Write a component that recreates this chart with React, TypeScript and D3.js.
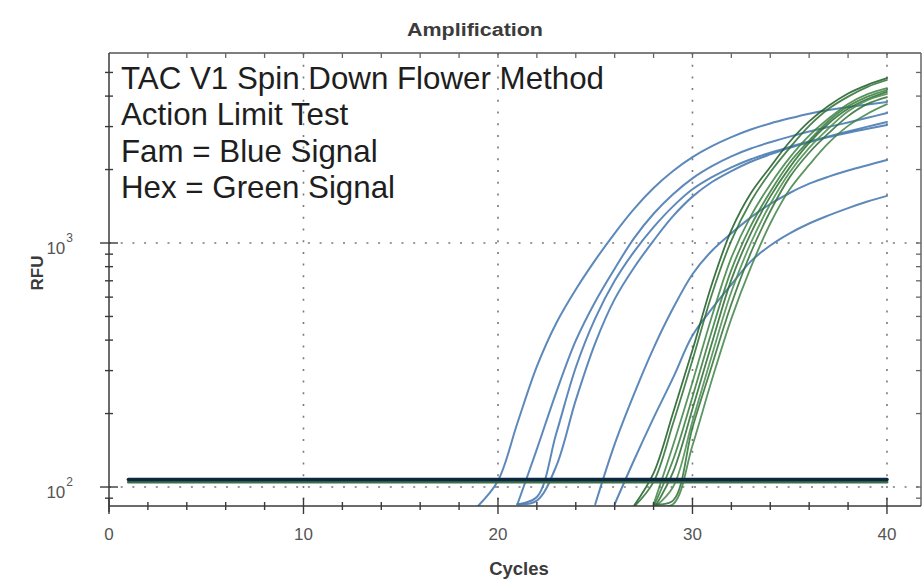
import React from "react";
import * as d3 from "d3";

const W = 922;
const H = 582;
const plotLeft = 109;
const plotRight = 921;
const plotTop = 53;
const plotBottom = 506;

const cycleDomain = [0, 41.75];
const rfuDomain = [83.6, 6007];

const xMajorTicks = [0, 10, 20, 30, 40];
const xMinorTicks = [2, 4, 6, 8, 12, 14, 16, 18, 22, 24, 26, 28, 32, 34, 36, 38];
const yMajorTicks = [100, 1000];
const yMinorTicks = [90, 200, 300, 400, 500, 600, 700, 800, 900, 2000, 3000, 4000, 5000];

const annotationLines = [
  "TAC V1 Spin Down Flower Method",
  "Action Limit Test",
  "Fam = Blue Signal",
  "Hex = Green Signal",
];

// Threshold lines (RFU), from cycle 1 to 40
const thresholdCycles = [1, 40];
const famThreshold = 107.3;
const hexThreshold = 104.8;

// FAM (blue) curves: start cycle + RFU per cycle
const famStart = [19, 21, 21, 21, 25, 26];
const fam1 = [84, 106, 183, 312, 470, 645, 851, 1096, 1380, 1679, 1972, 2249, 2495, 2716, 2917, 3090, 3243, 3388, 3508, 3606, 3698, 3784];
const fam2 = [85, 143, 245, 398, 575, 785, 1047, 1318, 1585, 1841, 2065, 2265, 2438, 2588, 2729, 2864, 2992, 3119, 3258, 3412];
const fam3 = [85, 91, 166, 309, 491, 700, 922, 1161, 1413, 1660, 1862, 2042, 2203, 2344, 2477, 2606, 2735, 2864, 2999, 3133];
const fam4 = [85, 88, 122, 227, 389, 589, 794, 1023, 1288, 1549, 1778, 1972, 2153, 2307, 2455, 2588, 2716, 2831, 2938, 3048];
const fam5 = [85, 150, 241, 371, 540, 745, 930, 1096, 1274, 1445, 1603, 1750, 1871, 1982, 2084, 2188];
const fam6 = [85, 129, 192, 280, 418, 538, 676, 841, 977, 1096, 1202, 1297, 1390, 1479, 1560];

// HEX (green) curves
const hexStart = [27, 27, 28, 28, 28, 28, 28, 28];
const hex1 = [84, 114, 201, 364, 679, 1130, 1600, 2050, 2600, 3150, 3650, 4100, 4450, 4740];
const hex2 = [83, 105, 182, 331, 617, 1023, 1479, 1950, 2455, 3020, 3548, 3981, 4365, 4656];
const hex3 = [85, 148, 269, 501, 871, 1288, 1738, 2239, 2754, 3236, 3715, 4074, 4315];
const hex4 = [83, 129, 234, 437, 776, 1175, 1622, 2138, 2630, 3162, 3631, 3981, 4236];
const hex5 = [81, 115, 209, 389, 708, 1096, 1549, 2042, 2570, 3090, 3548, 3890, 4160];
const hex6 = [82, 100, 186, 347, 631, 1000, 1445, 1950, 2455, 2951, 3467, 3846, 4083];
const hex7 = [85, 88, 175, 315, 562, 912, 1349, 1862, 2344, 2818, 3311, 3715, 3963];
const hex8 = [84, 85, 148, 275, 490, 794, 1202, 1660, 2089, 2570, 3020, 3388, 3707];

const famSeries = [fam1, fam2, fam3, fam4, fam5, fam6];
const hexSeries = [hex1, hex2, hex3, hex4, hex5, hex6, hex7, hex8];
const hexColors = ["#1c5a25", "#2b6e31", "#3d8142", "#357a3a", "#2a6b30", "#478a4a", "#2e7033", "#3e8243"];
const famColor = "#4a7cb2";

const FONT = "'Liberation Sans', Arial, Helvetica, sans-serif";

export default function App() {
  const x = d3.scaleLinear().domain(cycleDomain).range([plotLeft, plotRight]);
  const y = d3.scaleLog().domain(rfuDomain).range([plotBottom, plotTop]);

  const line = d3
    .line<[number, number]>()
    .x((d) => x(d[0]))
    .y((d) => y(d[1]))
    .curve(d3.curveCatmullRom.alpha(0.5));

  const toPts = (start: number, vals: number[]) =>
    vals.map((v, i) => [start + i, v] as [number, number]);

  const dotted = { stroke: "#7a7a7a", strokeWidth: 1.6, strokeDasharray: "2,9.7" };
  const axisColor = "#3a3a3a";

  return (
    <svg
      width={W}
      height={H}
      style={{ position: "absolute", left: 0, top: 0, background: "#fff" }}
      fontFamily={FONT}
    >
      <defs>
        <clipPath id="plotClip">
          <rect x={plotLeft} y={plotTop} width={plotRight - plotLeft} height={plotBottom - plotTop} />
        </clipPath>
      </defs>

      {/* title */}
      <text
        x={475}
        y={36}
        textAnchor="middle"
        fontSize={18}
        fontWeight="bold"
        fill="#3b3b3b"
        textLength={136}
        lengthAdjust="spacingAndGlyphs"
      >
        Amplification
      </text>

      {/* gridlines */}
      {xMajorTicks.filter((t) => t > 0).map((t) => (
        <line key={"gx" + t} x1={x(t)} x2={x(t)} y1={plotTop} y2={plotBottom} {...dotted} />
      ))}
      {yMajorTicks.map((t) => (
        <line key={"gy" + t} x1={plotLeft} x2={plotRight} y1={y(t)} y2={y(t)} {...dotted} />
      ))}

      {/* annotation */}
      {annotationLines.map((s, i) => (
        <text key={s} x={121} y={89 + i * 36.3} fontSize={31.3} fill="#1e1e1e">
          {s}
        </text>
      ))}

      {/* curves */}
      <g clipPath="url(#plotClip)" fill="none" strokeLinejoin="round" strokeLinecap="round">
        {famSeries.map((vals, i) => (
          <path key={"f" + i} d={line(toPts(famStart[i], vals)) || ""} stroke={famColor} strokeWidth={2} opacity={0.9} />
        ))}
        {hexSeries.map((vals, i) => (
          <path key={"h" + i} d={line(toPts(hexStart[i], vals)) || ""} stroke={hexColors[i]} strokeWidth={1.8} opacity={0.85} />
        ))}
        <line
          x1={x(thresholdCycles[0])}
          x2={x(thresholdCycles[1])}
          y1={y(hexThreshold)}
          y2={y(hexThreshold)}
          stroke="#3c6e4a"
          strokeWidth={3}
        />
        <line
          x1={x(thresholdCycles[0])}
          x2={x(thresholdCycles[1])}
          y1={y(famThreshold)}
          y2={y(famThreshold)}
          stroke="#0e2740"
          strokeWidth={3.6}
        />
      </g>

      {/* frame */}
      <line x1={plotLeft} x2={plotRight} y1={plotTop} y2={plotTop} stroke="#555" strokeWidth={1.6} />
      <line x1={plotRight} x2={plotRight} y1={plotTop} y2={plotBottom} stroke="#666" strokeWidth={1.5} />
      <line x1={plotLeft} x2={plotLeft} y1={plotTop} y2={plotBottom + 6} stroke={axisColor} strokeWidth={1.5} />
      <line x1={plotLeft} x2={plotRight} y1={plotBottom} y2={plotBottom} stroke={axisColor} strokeWidth={1.5} />

      {/* bottom axis ticks */}
      {xMajorTicks.map((t) => (
        <line key={"xt" + t} x1={x(t)} x2={x(t)} y1={plotBottom - 8} y2={plotBottom + 8} stroke={axisColor} strokeWidth={1.4} />
      ))}
      {xMinorTicks.map((t) => (
        <line key={"xm" + t} x1={x(t)} x2={x(t)} y1={plotBottom - 4} y2={plotBottom + 4} stroke={axisColor} strokeWidth={1.4} />
      ))}
      {/* top ticks */}
      {[...xMajorTicks, ...xMinorTicks].filter((t) => t > 0).map((t) => (
        <line key={"tt" + t} x1={x(t)} x2={x(t)} y1={plotTop} y2={plotTop + 5} stroke="#666" strokeWidth={1.3} />
      ))}
      {/* left axis ticks */}
      {yMajorTicks.map((t) => (
        <line key={"yt" + t} x1={plotLeft - 9} x2={plotLeft + 9} y1={y(t)} y2={y(t)} stroke={axisColor} strokeWidth={1.4} />
      ))}
      {yMinorTicks.map((t) => (
        <line key={"ym" + t} x1={plotLeft - 4} x2={plotLeft + 4} y1={y(t)} y2={y(t)} stroke={axisColor} strokeWidth={1.4} />
      ))}
      {/* right ticks */}
      {[...yMajorTicks, ...yMinorTicks].map((t) => (
        <line key={"rt" + t} x1={plotRight - 5} x2={plotRight} y1={y(t)} y2={y(t)} stroke="#666" strokeWidth={1.3} />
      ))}

      {/* x tick labels */}
      {xMajorTicks.map((t) => (
        <text key={"xl" + t} x={x(t)} y={540} textAnchor="middle" fontSize={17} fill="#555">
          {t}
        </text>
      ))}
      {/* y tick labels */}
      {yMajorTicks.map((t) => (
        <text key={"yl" + t} x={73} y={y(t) + 11} textAnchor="end" fontSize={17} fill="#555">
          10
          <tspan fontSize={12} dy={-12} dx={1}>
            {Math.round(Math.log10(t))}
          </tspan>
        </text>
      ))}

      {/* axis titles */}
      <text x={519} y={575} textAnchor="middle" fontSize={18.5} fontWeight="bold" fill="#3b3b3b">
        Cycles
      </text>
      <text
        transform={`translate(43, 273) rotate(-90)`}
        textAnchor="middle"
        fontSize={17}
        fontWeight="bold"
        fill="#3b3b3b"
      >
        RFU
      </text>
    </svg>
  );
}
